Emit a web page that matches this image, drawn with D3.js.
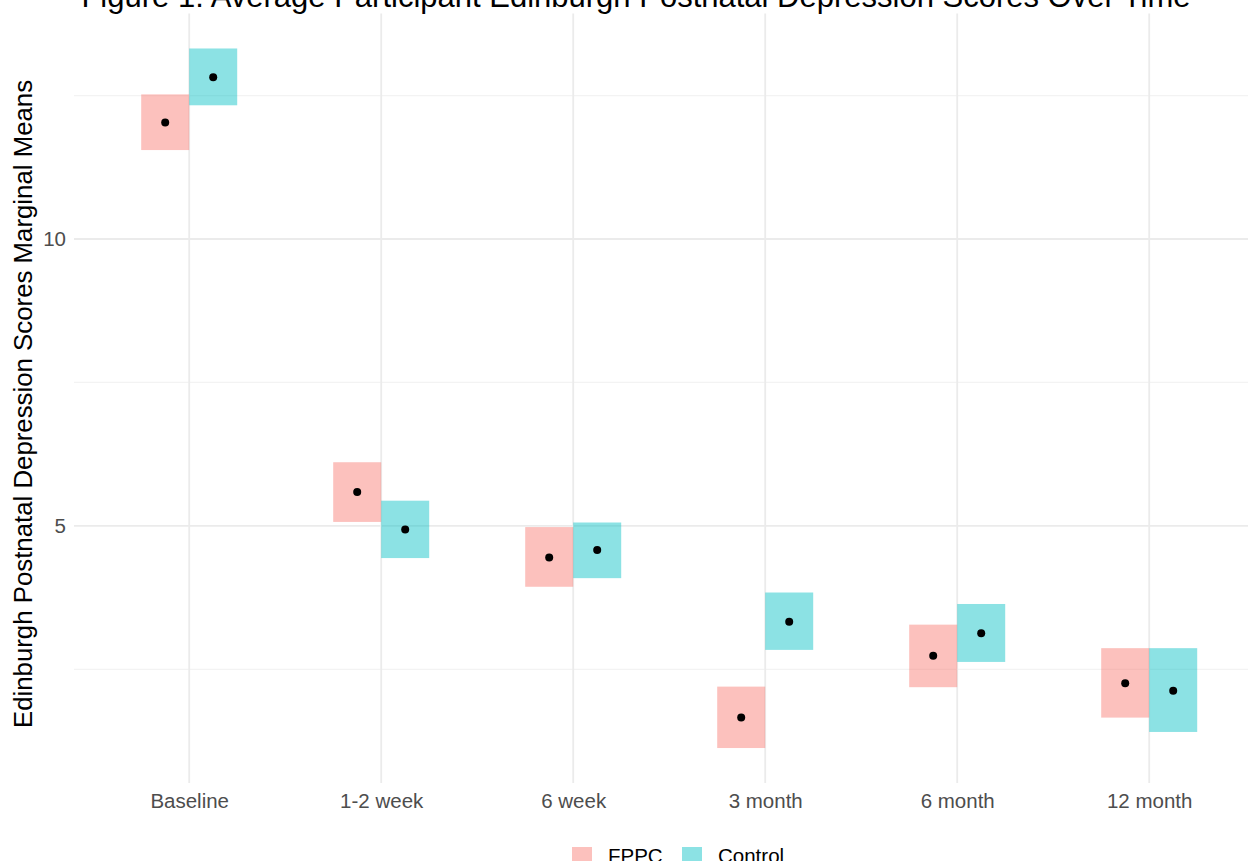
<!DOCTYPE html>
<html>
<head>
<meta charset="utf-8">
<script src="https://cdn.jsdelivr.net/npm/d3@7/dist/d3.min.js"></script>
<style>
  html, body { margin: 0; padding: 0; background: #ffffff; }
  svg { display: block; font-family: "Liberation Sans", Arial, sans-serif; }
</style>
</head>
<body>
<svg id="chart" width="1248" height="861"></svg>
<script>
// Time points and treatment groups
const categories = ["Baseline", "1-2 week", "6 week", "3 month", "6 month", "12 month"];
const groups = ["FPPC", "Control"];

// Estimated marginal means with lower / upper confidence limits
const fppcMean  = [12.03, 5.59, 4.45, 1.66, 2.74, 2.26];
const fppcLower = [11.55, 5.07, 3.94, 1.13, 2.19, 1.66];
const fppcUpper = [12.52, 6.11, 4.98, 2.20, 3.28, 2.87];

const controlMean  = [12.82, 4.94, 4.58, 3.33, 3.13, 2.13];
const controlLower = [12.33, 4.44, 4.09, 2.84, 2.63, 1.41];
const controlUpper = [13.32, 5.44, 5.06, 3.84, 3.64, 2.87];

// Axis ticks
const majorTicks = [5, 10];
const minorTicks = [2.5, 7.5, 12.5];

const titleText = "Figure 1: Average Participant Edinburgh Postnatal Depression Scores Over Time";
const yTitleText = "Edinburgh Postnatal Depression Scores Marginal Means";

const colors = { FPPC: "#F8766D", Control: "#00BFC4" };
const fillAlpha = 0.45;

// Long-format table
const rows = [];
categories.forEach((c, i) => {
  rows.push({ time: c, group: "FPPC", mean: fppcMean[i], lower: fppcLower[i], upper: fppcUpper[i] });
  rows.push({ time: c, group: "Control", mean: controlMean[i], lower: controlLower[i], upper: controlUpper[i] });
});

const svg = d3.select("#chart");

const panel = { left: 74, right: 1264.4, top: 13.5, bottom: 783 };

// Y scale with 5% expansion on the data range
const lo = d3.min(rows, d => d.lower);
const hi = d3.max(rows, d => d.upper);
const pad = (hi - lo) * 0.05;
const y = d3.scaleLinear().domain([lo - pad, hi + pad]).range([panel.bottom, panel.top]);

const x = d3.scalePoint().domain(categories).range([panel.left, panel.right]).padding(0.6);
const step = x.step();
const boxW = step * 0.25;
const offset = { FPPC: -boxW, Control: 0 };

const grid = svg.append("g");
// minor horizontal grid
grid.selectAll("line.minor").data(minorTicks).join("line")
  .attr("x1", panel.left).attr("x2", 1248)
  .attr("y1", d => y(d)).attr("y2", d => y(d))
  .attr("stroke", "#f3f3f3").attr("stroke-width", 1.2);
// major horizontal grid
grid.selectAll("line.major").data(majorTicks).join("line")
  .attr("x1", panel.left).attr("x2", 1248)
  .attr("y1", d => y(d)).attr("y2", d => y(d))
  .attr("stroke", "#ebebeb").attr("stroke-width", 1.8);
// vertical grid at each time point
grid.selectAll("line.vx").data(categories).join("line")
  .attr("x1", d => x(d)).attr("x2", d => x(d))
  .attr("y1", panel.top).attr("y2", panel.bottom)
  .attr("stroke", "#ebebeb").attr("stroke-width", 1.8);

// Confidence boxes
svg.append("g").selectAll("rect").data(rows).join("rect")
  .attr("x", d => x(d.time) + offset[d.group])
  .attr("width", boxW)
  .attr("y", d => y(d.upper))
  .attr("height", d => y(d.lower) - y(d.upper))
  .attr("fill", d => colors[d.group])
  .attr("fill-opacity", fillAlpha);

// Mean points
svg.append("g").selectAll("circle").data(rows).join("circle")
  .attr("cx", d => x(d.time) + offset[d.group] + boxW / 2)
  .attr("cy", d => y(d.mean))
  .attr("r", 4)
  .attr("fill", "#000000");

// Y axis tick labels
const yAxis = d3.axisLeft(y).tickValues(majorTicks).tickSize(0).tickPadding(8).tickFormat(d3.format("d"));
const yg = svg.append("g").attr("transform", `translate(${panel.left},0)`).call(yAxis);
yg.select(".domain").remove();
yg.selectAll("text").attr("fill", "#4d4d4d").attr("font-size", "20.5px")
  .attr("font-family", "Liberation Sans, Arial, sans-serif");

// X axis tick labels
const xAxis = d3.axisBottom(x).tickSize(0).tickPadding(0);
const xg = svg.append("g").attr("transform", `translate(0,${panel.bottom})`).call(xAxis);
xg.select(".domain").remove();
xg.selectAll("text").attr("fill", "#4d4d4d").attr("font-size", "20.5px")
  .attr("font-family", "Liberation Sans, Arial, sans-serif")
  .attr("y", 25).attr("dy", 0);

// Y axis title
svg.append("text")
  .attr("transform", "translate(32,404) rotate(-90)")
  .attr("text-anchor", "middle")
  .attr("font-size", "25.8px")
  .attr("fill", "#000000")
  .text(yTitleText);

// Plot title
svg.append("text")
  .attr("x", 636).attr("y", 7)
  .attr("text-anchor", "middle")
  .attr("font-size", "31px")
  .attr("fill", "#000000")
  .text(titleText);

// Legend
const legend = svg.append("g");
const legendX = { FPPC: 572, Control: 682 };
groups.forEach(g => {
  legend.append("rect")
    .attr("x", legendX[g]).attr("y", 847).attr("width", 20).attr("height", 20)
    .attr("fill", colors[g]).attr("fill-opacity", fillAlpha);
  legend.append("text")
    .attr("x", legendX[g] + 36).attr("y", 863)
    .attr("font-size", "20.5px").attr("fill", "#000000")
    .text(g);
});
</script>
</body>
</html>
